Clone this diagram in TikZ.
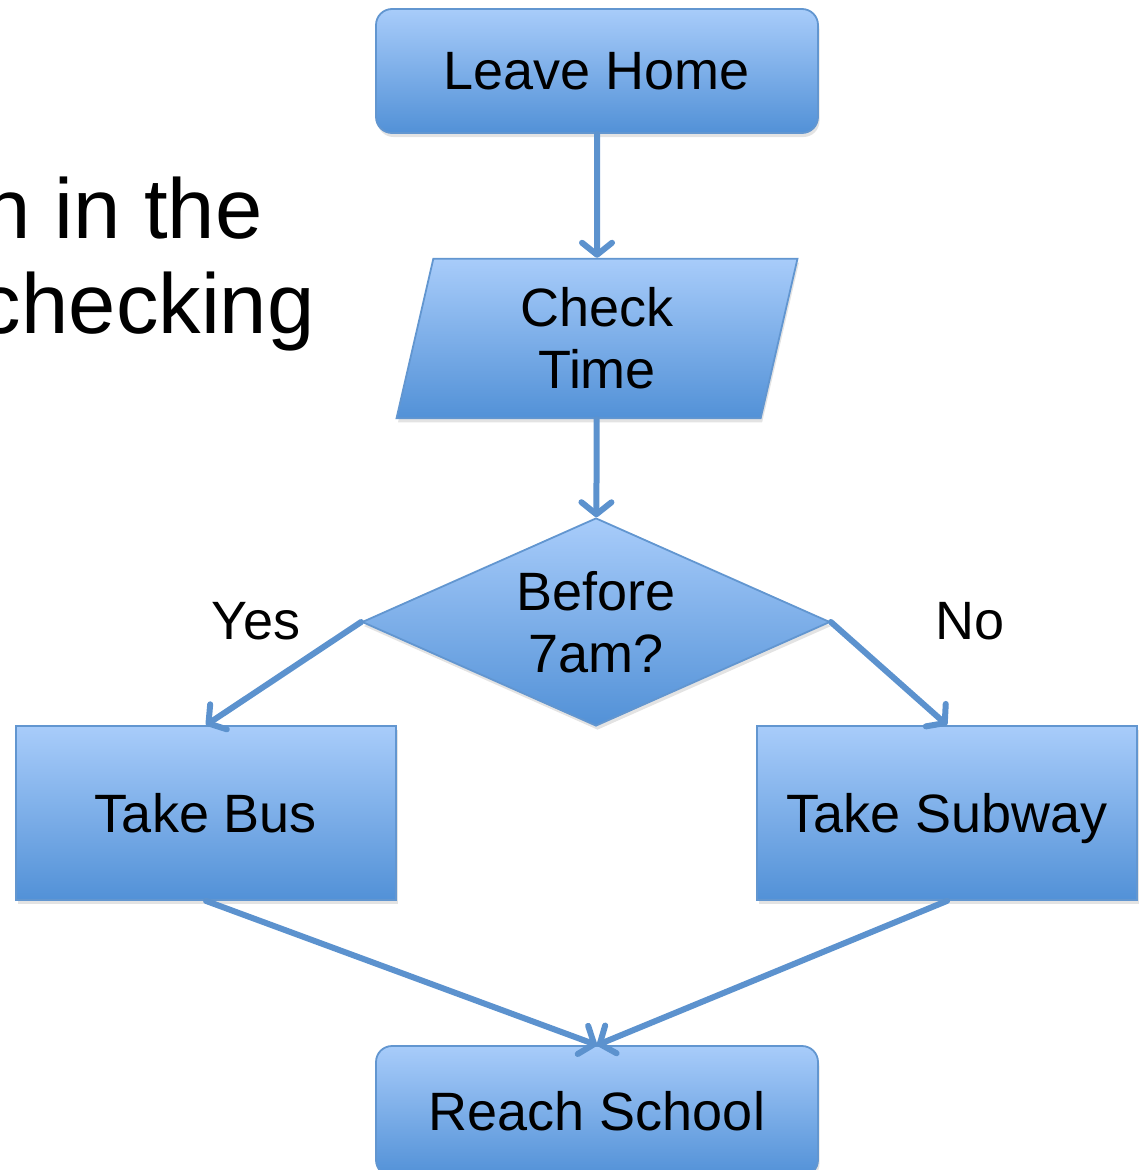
\documentclass[tikz,border=0pt]{standalone}
\usepackage{fontspec}
\setmainfont{Liberation Sans}
\usetikzlibrary{shapes.geometric,arrows.meta,shadows}
\definecolor{boxtop}{RGB}{168,204,250}
\definecolor{boxbot}{RGB}{82,145,215}
\definecolor{boxline}{RGB}{98,150,208}
\definecolor{flowc}{RGB}{92,146,206}

\begin{document}
\begin{tikzpicture}[x=1pt,y=-1pt,
    txt/.style={font=\fontsize{54}{62}\selectfont},
    blk/.style={txt,draw=boxline,line width=1.8pt,top color=boxtop,bottom color=boxbot,
      inner sep=0pt,align=center,drop shadow={opacity=0.22,shadow xshift=1.5pt,shadow yshift=-4pt}},
    term/.style={blk,rounded corners=16pt,minimum width=442pt,minimum height=124pt},
    act/.style={blk,text depth=0pt,minimum width=380pt,minimum height=174pt},
    io/.style={blk,trapezium,trapezium left angle=77,trapezium right angle=103,
      trapezium stretches body,inner ysep=29pt,minimum width=401pt},
    dec/.style={blk,diamond,aspect=2.25,minimum width=468pt,minimum height=208pt},
    flow/.style={draw=flowc,line width=6pt,line cap=round,
      -{Straight Barb[length=12pt,width=30pt,round]}}]
  \useasboundingbox (0,0) rectangle (1140,1170);
  % text of the slide behind
  \node[font=\fontsize{85}{95}\selectfont,anchor=base east] (bg1) at (266,238) {n in the};
  \node[font=\fontsize{85}{95}\selectfont,anchor=base east] (bg2) at (318,333) {checking};
  \node[term] (home) at (597,71) {Leave Home};
  \node[io] (chk) at (597,338.5) {Check\\Time};
  \node[dec] (when) at (596,622) {Before\\7am?};
  \node[act] (bus) at (206,813) {Take Bus};
  \node[act] (sub) at (947,813) {Take Subway};
  \node[term,minimum height=130pt] (school) at (597,1111) {Reach School};
  \node[txt] (yes) at (256,621) {Yes};
  \node[txt] (no) at (970,621) {No};
  \path
    (home) edge[flow] (chk)
    (chk) edge[flow] (when)
    (when.west) edge[flow] (bus.north)
    (when.east) edge[flow] (sub.north)
    (bus.south) edge[flow] (school.north)
    (sub.south) edge[flow] (school.north);
\end{tikzpicture}
\end{document}
